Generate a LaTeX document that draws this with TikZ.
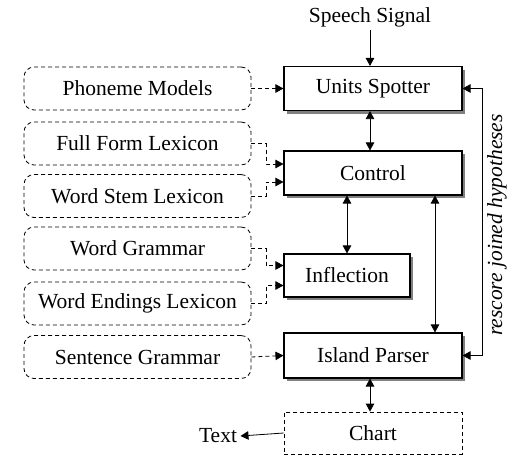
\documentclass[tikz,border=0pt]{standalone}
\usepackage{fontspec}
\setmainfont{Liberation Serif}
\newfontfamily\figserif{Liberation Serif}
\usetikzlibrary{arrows.meta,shadows}
\begin{document}
\begin{tikzpicture}[x=1pt,y=-1pt,
  font=\figserif\fontsize{21.5}{24}\selectfont,
  >={Triangle[length=8pt,width=8.5pt]},
  source/.style={draw, rounded corners=10pt, dash pattern=on 4pt off 3pt,
    line width=0.8pt, minimum width=227pt, minimum height=43pt, inner sep=0pt},
  module/.style={draw, fill=white, line width=1.1pt, minimum height=44pt,
    inner sep=0pt, drop shadow={shadow xshift=3pt, shadow yshift=-3pt,
    fill=black!50, opacity=1}},
  store/.style={draw, dash pattern=on 4pt off 3pt, line width=0.8pt,
    minimum width=178pt, minimum height=42pt, inner sep=0pt},
  link/.style={line width=0.8pt},
  feed/.style={line width=0.8pt, dash pattern=on 4pt off 3pt, ->}]

\useasboundingbox (0,0) rectangle (509,456);

% knowledge sources
\node[source] (pm) at (137.5,88.5) {Phoneme Models};
\node[source] (ff) at (137.5,143.5) {Full Form Lexicon};
\node[source] (ws) at (137.5,196) {Word Stem Lexicon};
\node[source] (wg) at (137.5,248.5) {Word Grammar};
\node[source] (we) at (137.5,303.5) {Word Endings Lexicon};
\node[source] (sg) at (137.5,357) {Sentence Grammar};

% processing modules
\node[module, minimum width=178pt] (us) at (373,88.5) {Units Spotter};
\node[module, minimum width=178pt] (ctl) at (373,173) {Control};
\node[module, minimum width=126pt, minimum height=43pt] (inf) at (347,275.5) {Inflection};
\node[module, minimum width=178pt, minimum height=45pt] (ip) at (373,355.5) {Island Parser};
\node[store] (ch) at (373,433) {Chart};

% input and output
\node (sig) at (370,17) {Speech Signal};
\node (txt) at (218,436) {Text};
\node[font=\figserif\fontsize{21.5}{24}\selectfont\itshape, rotate=90, inner sep=0pt]
  (lbl) at (497,225) {rescore joined hypotheses};

% solid data flow
\draw[link,->] (sig.south -| 370,0) -- ([xshift=-3pt]us.north);
\draw[link,<->] ([xshift=-3pt]us.south) -- ([xshift=-3pt]ctl.north);
\draw[link,<->] (ctl.south -| inf.north) -- (inf.north);
\draw[link,<->] ([xshift=62pt]ctl.south) -- ([xshift=62pt]ip.north);
\draw[link,<->] ([xshift=-3pt]ip.south) -- ([xshift=-3pt]ch.north);
\draw[link,->] (ch.west) -- (txt.east);
\draw[link,<->] (ip.east) -- ++(20,0) |- (us.east);

% knowledge lookups
\draw[feed] (pm.east) -- (us.west);
\draw[feed] (ff.east) -- ++(15,0) |- ([yshift=9pt]ctl.west);
\draw[feed] (ws.east) -- ++(15,0) |- ([yshift=-9pt]ctl.west);
\draw[feed] (wg.east) -- ++(15,0) |- ([yshift=10pt]inf.west);
\draw[feed] (we.east) -- ++(15,0) |- ([yshift=-10pt]inf.west);
\draw[feed] (sg.east) -- (ip.west);
\end{tikzpicture}
\end{document}
